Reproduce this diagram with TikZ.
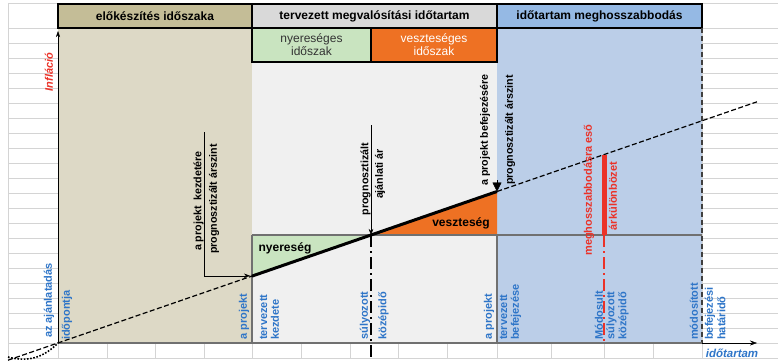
\documentclass[tikz,border=0pt]{standalone}
\usepackage{fontspec}
\setmainfont{Liberation Sans}
\usepackage{tikz}
\usetikzlibrary{arrows.meta}

\definecolor{tanhead}{RGB}{196,189,151}
\definecolor{tanbody}{RGB}{221,217,198}
\definecolor{grayhead}{RGB}{217,217,217}
\definecolor{graybody}{RGB}{240,240,240}
\definecolor{bluehead}{RGB}{149,185,228}
\definecolor{bluebody}{RGB}{187,206,232}
\definecolor{greenbox}{RGB}{201,228,192}
\definecolor{orangebox}{RGB}{238,113,35}
\definecolor{labelblue}{RGB}{46,117,200}
\definecolor{labelred}{RGB}{235,50,40}
\definecolor{gridgray}{RGB}{212,212,212}
\definecolor{axisgray}{RGB}{112,112,112}

\tikzset{
  headbox/.style={draw=black, line width=1.6pt, inner sep=0pt, font=\bfseries\fontsize{12}{14}\selectfont},
  subbox/.style={draw=black, line width=1.6pt, inner sep=0pt, align=center, font=\fontsize{12}{13}\selectfont},
  blabel/.style={rotate=90, anchor=west, inner sep=0pt, text=labelblue, font=\bfseries\fontsize{11}{12}\selectfont},
  klabel/.style={rotate=90, inner sep=0pt, font=\bfseries\fontsize{10.7}{12}\selectfont},
  rlabel/.style={klabel, text=labelred, font=\bfseries\fontsize{11}{12}\selectfont},
  gridline/.style={gridgray, line width=0.8pt},
  dashdot/.style={dash pattern=on 12pt off 4pt on 2pt off 4pt}
}

\begin{document}
\begin{tikzpicture}[x=1pt,y=-1pt]
\useasboundingbox (0,0) rectangle (778,361);
\draw [gridline] (8,3) -- (778,3);
\foreach \y in {28,43,...,358} \draw [gridline] (8,\y) -- (778,\y);
\foreach \x in {8,58,107,155,204,252,301,350,398,447,497,551,604,653,702} \draw [gridline] (\x,3) -- (\x,358);

\fill [tanbody] (58,28) rectangle (252,343);
\fill [graybody] (252,62) rectangle (497,343);
\fill [bluebody] (497,28) rectangle (702,343);

\coordinate (O) at (58,343);
\coordinate (lstart) at (8,360.2);
\coordinate (pstart) at (252,276.1);
\coordinate (pmid) at (371,235);
\coordinate (pend) at (497,191.5);
\coordinate (mmid) at (604,155);
\coordinate (lend) at (757,101.8);
\coordinate (kezd) at (250,275.8);

\fill [greenbox] (252,235) -- (pmid) -- (pstart) -- cycle;
\fill [orangebox] (pmid) -- (497,235) -- (pend) -- cycle;

\node [headbox, fill=tanhead, minimum width=194pt, minimum height=24pt] (hprep) at (155,16) {előkészítés időszaka};
\node [headbox, fill=grayhead, minimum width=245pt, minimum height=24pt] (hplan) at (374.5,16) {tervezett megvalósítási időtartam};
\node [headbox, fill=bluehead, minimum width=205pt, minimum height=24pt] (hext) at (599.5,16) {időtartam meghosszabbodás};
\node [subbox, fill=greenbox, text=black!80, minimum width=119pt, minimum height=34pt] (sgain) at (311.5,45) {nyereséges\\időszak};
\node [subbox, fill=orangebox, text=white, minimum width=126pt, minimum height=34pt] (sloss) at (434,45) {veszteséges\\időszak};

\draw [axisgray, line width=1.5pt] (252,235) -- (702,235);
\draw [axisgray, line width=1.5pt] (252,235) -- (252,343);
\draw [axisgray, line width=1.5pt] (497,235) -- (497,343);
\draw [black!75, line width=1.6pt, dash pattern=on 5pt off 3pt] (702,28) -- (702,343);

\draw [-{Stealth[length=7pt,width=5pt]}] (O) -- (757,343);
\draw [axisgray, line width=2pt] (O) -- (702,343);
\draw [-{Stealth[length=6pt,width=4pt]}] (O) -- (58,31);

\draw [line width=1.2pt, dash pattern=on 5pt off 2.5pt] (lstart) -- (lend);
\draw [line width=1.6pt, dash pattern=on 1.6pt off 1.6pt] (8,357) .. controls (30,363) and (45,356) .. (O);
\draw [line width=3pt] (pstart) -- (pend);

\draw [line width=1.8pt, dashdot] (pmid) -- (371,358);
\draw [labelred, line width=5pt] (mmid) -- (604,235);
\draw [labelred, line width=1.8pt, dashdot] (604,235) -- (604,343);

\draw [-{Stealth[length=6pt,width=4.5pt]}] (204,132) |- (kezd);
\draw [-{Stealth[length=6pt,width=4.5pt]}] (371,125) -- (pmid);
\draw [-{Triangle[length=9pt,width=9pt]}] (497,180) -- (pend);

\node [klabel] (kezd1) at (198.5,201) {a projekt\ \ kezdetére};
\node [klabel] (kezd2) at (214,199) {prognosztizált árszint};
\node [klabel] (ar1) at (365.5,179) {prognosztizált};
\node [klabel] (ar2) at (380,174) {ajánlati ár};
\node [klabel] (bef1) at (485,130) {a projekt befejezésére};
\node [klabel] (bef2) at (510,130) {prognosztizált árszint};
\node [rlabel] (kul1) at (589,190) {meghosszabbodásra eső};
\node [rlabel] (kul2) at (613,196) {árkülönbözet};

\node [font=\bfseries\fontsize{12}{14}\selectfont] (gain) at (285,248) {nyereség};
\node [font=\bfseries\fontsize{12}{14}\selectfont] (loss) at (461,223) {veszteség};

\node [rotate=90, text=labelred, font=\bfseries\itshape\fontsize{11}{12}\selectfont] (infl) at (49,72) {Infláció};
\node [text=labelblue, font=\bfseries\itshape\fontsize{11.5}{12}\selectfont] (ido) at (732,353) {időtartam};

\node [blabel] (aj1) at (49,338) {az ajánlatadás};
\node [blabel] (aj2) at (67,340) {időpontja};
\node [blabel] (ks1) at (244,340) {a projekt};
\node [blabel] (ks2) at (263.5,340) {tervezett};
\node [blabel] (ks3) at (275,340) {kezdete};
\node [blabel] (sk1) at (365,340) {súlyozott};
\node [blabel] (sk2) at (383.5,340) {középidő};
\node [blabel] (bf1) at (489,340) {a projekt};
\node [blabel] (bf2) at (503.5,340) {tervezett};
\node [blabel] (bf3) at (516,340) {befejezése};
\node [blabel] (ms1) at (599,340) {Módosult};
\node [blabel] (ms2) at (611.5,340) {súlyozott};
\node [blabel] (ms3) at (623.5,340) {középidő};
\node [blabel] (mh1) at (694,340) {módosított};
\node [blabel] (mh2) at (710,340) {befejezési};
\node [blabel] (mh3) at (721.5,340) {határidő};
\end{tikzpicture}
\end{document}
